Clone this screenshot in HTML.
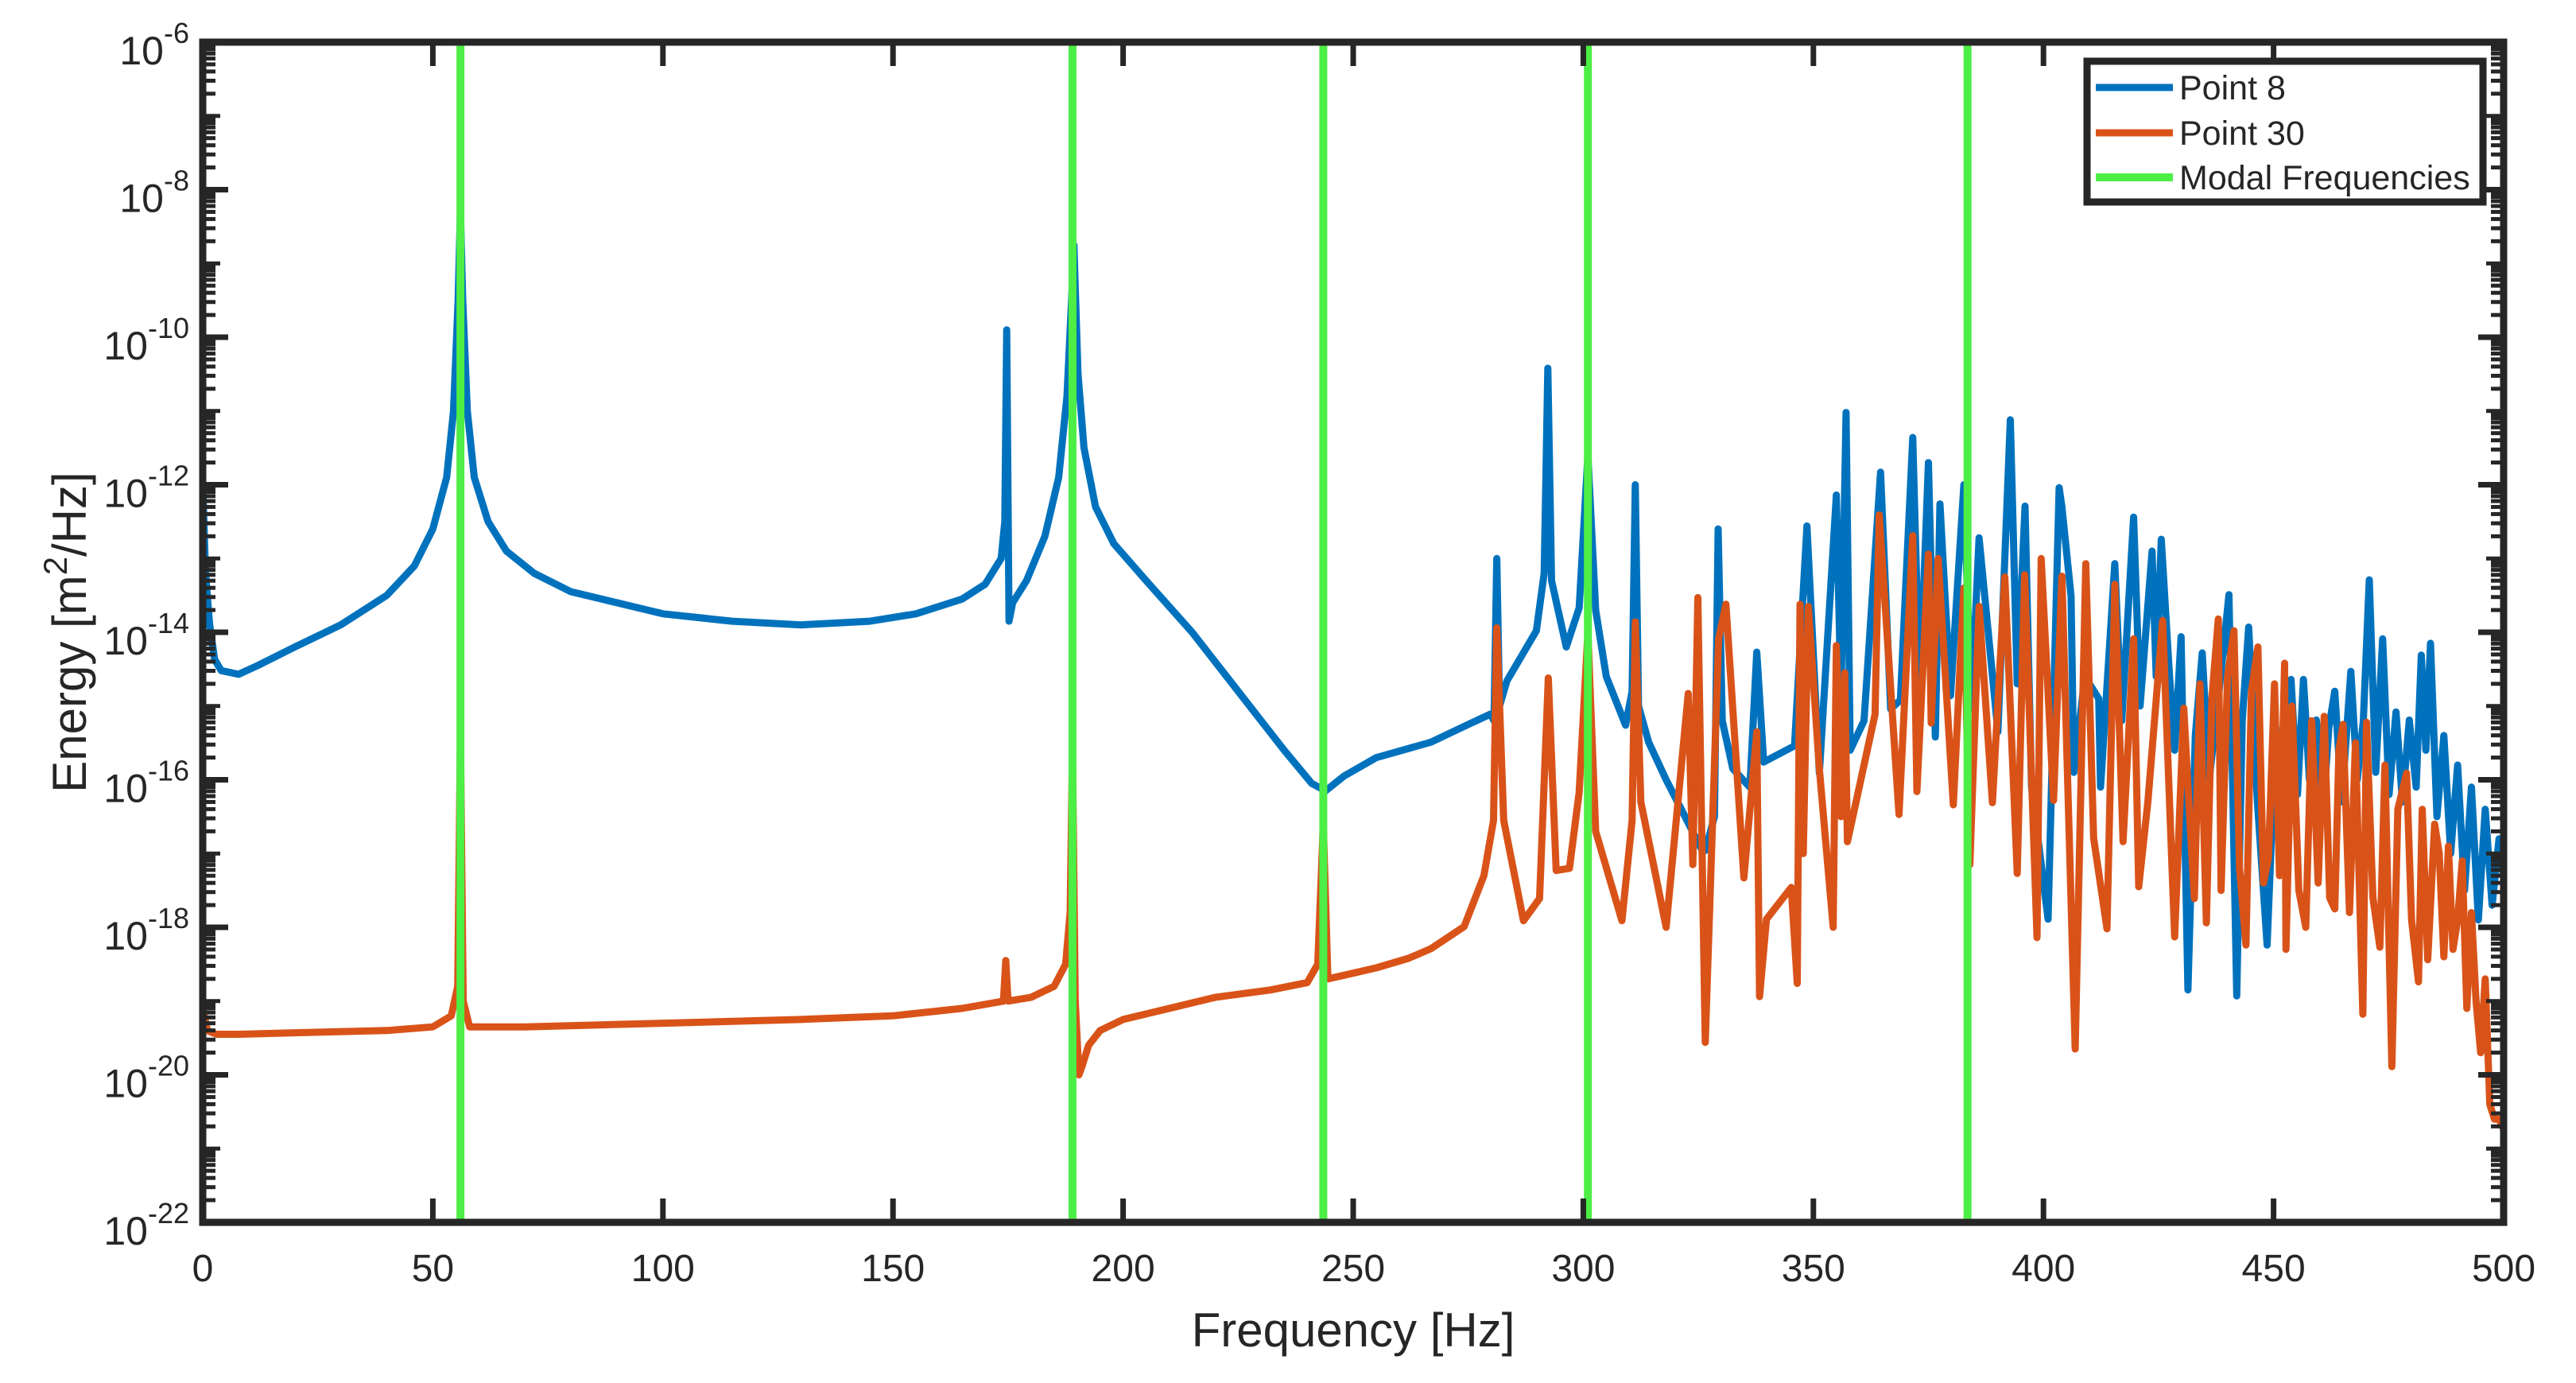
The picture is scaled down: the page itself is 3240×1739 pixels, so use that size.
<!DOCTYPE html>
<html>
<head>
<meta charset="utf-8">
<style>
  html, body { margin: 0; padding: 0; background: #ffffff; }
  svg { display: block; }
  text { font-family: "Liberation Sans", Arial, sans-serif; fill: #262626; }
</style>
</head>
<body>
<svg id="chart" xmlns="http://www.w3.org/2000/svg" width="3240" height="1739" viewBox="0 0 3240 1739">
  <rect x="0" y="0" width="3240" height="1739" fill="#ffffff"/>
  <defs>
    <clipPath id="plotClip"><rect x="255" y="53" width="2894" height="1484"/></clipPath>
  </defs>
  <g id="series" clip-path="url(#plotClip)"></g>
  <g id="axes"></g>
  <text x="1702" y="1693" font-size="60" text-anchor="middle">Frequency [Hz]</text>
  <text transform="translate(108,795) rotate(-90)" font-size="60" text-anchor="middle">Energy [m<tspan font-size="42" dy="-24">2</tspan><tspan dy="24">/Hz]</tspan></text>
  <g>
    <rect x="2625" y="77" width="498" height="177" fill="#ffffff" stroke="#262626" stroke-width="9"/>
    <line x1="2636" y1="110" x2="2733" y2="110" stroke="#0072BD" stroke-width="9"/>
    <text x="2741" y="125" font-size="43" fill="#000">Point 8</text>
    <line x1="2636" y1="167" x2="2733" y2="167" stroke="#D95319" stroke-width="9"/>
    <text x="2741" y="182" font-size="43" fill="#000">Point 30</text>
    <line x1="2636" y1="223" x2="2733" y2="223" stroke="#4DEE45" stroke-width="10"/>
    <text x="2741" y="238" font-size="43" fill="#000">Modal Frequencies</text>
  </g>
</svg>
<script>
// ---- data (frequency in Hz, energy as log10 exponent) ----
const xTicks = [0, 50, 100, 150, 200, 250, 300, 350, 400, 450, 500];
const yTickExps = [-22, -20, -18, -16, -14, -12, -10, -8, -6];
const modalFreqs = [56, 189, 243.5, 301, 383.5];

const p8Freq = [0, 0.6, 1.5, 2.6, 4, 7.8, 12, 20, 30, 40, 46, 50, 53, 54.5, 55.5, 56, 56.5, 57.5, 59, 62, 66, 72, 80, 90, 100, 115, 130, 145, 155, 165, 170, 173.5, 174.3, 174.7, 175.2, 176, 179, 183, 186, 187.8, 188.8, 189.3, 190.2, 191.5, 194, 198, 205, 215, 225, 235, 241, 244, 248, 255, 266.9, 275, 279.8, 280.6, 281.2, 281.8, 283.4, 289.8, 291.5, 292.3, 293.1, 296.3, 299.1, 301, 302.7, 305, 309.2, 310.6, 311.3, 312, 314.2, 318, 321.3, 325.6, 326.5, 328.5, 329.3, 330.2, 332.5, 336.2, 337.7, 339.2, 345.9, 348.6, 351.3, 355, 356, 357.1, 358, 361, 364.6, 366.8, 368.9, 371.6, 373.1, 375, 376.5, 377.5, 379.8, 382.7, 384.3, 386, 390.1, 392.8, 394.3, 396, 397.4, 401, 403.4, 404, 406, 406.6, 409, 412, 412.4, 415.5, 417, 419.6, 421, 423.6, 424.5, 425.6, 427.3, 428.5, 429.9, 431.4, 433, 434.5, 436, 438, 440.3, 442, 443.2, 444.6, 446.5, 448.6, 450.5, 452, 453.8, 455.2, 456.5, 457.8, 459.3, 460.8, 462, 463.3, 464.8, 466.8, 468.2, 469.5, 470.8, 472.2, 473.7, 475.1, 476.6, 478, 479.5, 481, 482.1, 483.1, 484.1, 485.5, 487, 488.5, 490, 491.5, 493, 494.5, 496, 497.5, 499, 500];
const p8Log = [-12.0, -13.2, -13.9, -14.37, -14.52, -14.57, -14.45, -14.2, -13.9, -13.5, -13.1, -12.6, -11.9, -11.0, -9.5, -8.3, -9.5, -11.0, -11.9, -12.5, -12.9, -13.2, -13.45, -13.6, -13.75, -13.85, -13.9, -13.85, -13.75, -13.55, -13.35, -13.0, -12.5, -9.9, -13.85, -13.6, -13.3, -12.7, -11.9, -10.8, -9.5, -8.75, -10.5, -11.5, -12.3, -12.8, -13.3, -14.0, -14.8, -15.6, -16.05, -16.15, -15.95, -15.7, -15.49, -15.25, -15.11, -15.2, -13.0, -15.0, -14.66, -13.98, -13.2, -10.42, -13.3, -14.2, -13.67, -11.6, -13.7, -14.6, -15.26, -14.8, -12.0, -15.0, -15.49, -16.0, -16.4, -16.93, -16.96, -16.5, -12.6, -15.2, -15.85, -16.1, -14.27, -15.76, -15.54, -12.56, -15.91, -12.14, -14.9, -11.02, -15.6, -15.2, -11.83, -15.04, -14.92, -11.36, -14.83, -11.7, -15.42, -12.26, -14.86, -12.0, -15.04, -12.72, -15.35, -11.12, -14.7, -12.29, -16.1, -17.89, -12.04, -12.3, -13.51, -15.9, -14.6, -14.9, -16.1, -13.07, -15.2, -12.44, -15.0, -12.9, -14.6, -12.74, -14.5, -15.6, -14.06, -18.85, -15.4, -14.28, -16.0, -14.9, -13.49, -18.93, -15.2, -13.93, -16.3, -18.24, -15.3, -16.1, -14.64, -16.2, -14.64, -16.0, -15.19, -16.4, -15.3, -14.8, -16.3, -14.53, -16.0, -15.2, -13.29, -15.9, -14.09, -16.2, -15.08, -16.3, -15.19, -16.1, -14.31, -15.6, -14.15, -16.5, -15.4, -17.0, -15.8, -17.5, -16.1, -17.9, -16.4, -17.7, -16.8, -17.3];

const p30Freq = [0, 1, 3, 8, 20, 40, 50, 54, 55.4, 56, 56.6, 58, 70, 100, 130, 150, 165, 174, 174.5, 175, 180, 185, 187.5, 188.5, 189, 189.6, 190.4, 191, 192.5, 195, 200, 210, 220, 232, 240, 242.3, 243.5, 244.5, 248, 255, 262, 266.9, 274.1, 278.4, 280.5, 281.2, 282.7, 287, 290.5, 292.4, 294.1, 297, 299.1, 301, 302.7, 308.4, 310.6, 311.3, 312.5, 318, 322.8, 323.8, 324.9, 326.5, 329.4, 331, 334.9, 337.7, 338.3, 339.8, 345.2, 346.5, 347.1, 347.8, 348.9, 351.3, 354.3, 355, 356, 356.8, 357.4, 363.4, 364.3, 368.6, 371.6, 372.5, 375, 375.6, 377.1, 380.4, 382.7, 384, 386, 388.9, 391.6, 394.3, 395.9, 398.6, 399.5, 402.2, 404, 406.9, 409.2, 410.9, 413.8, 415.5, 417.3, 419.6, 420.7, 422.7, 425.9, 428.5, 430.5, 431.5, 432.8, 434, 435.4, 436.6, 438, 438.6, 440, 441.4, 442.6, 444, 445.2, 446.6, 447.8, 448.9, 450.2, 451.3, 452.4, 452.7, 454, 455.5, 457, 458.3, 459.7, 461, 462.2, 463.3, 464.2, 465.1, 466.5, 467.8, 469.4, 470.2, 471.6, 473.1, 474.2, 475.7, 477, 478.9, 480, 481.5, 482.3, 483.5, 485, 486, 487, 488, 489, 490, 491, 492, 493, 494, 495, 496, 497, 498, 499, 500];
const p30Log = [-19.1, -19.4, -19.45, -19.45, -19.43, -19.4, -19.35, -19.2, -18.8, -15.4, -19.0, -19.35, -19.35, -19.3, -19.25, -19.2, -19.1, -19.0, -18.45, -19.0, -18.95, -18.8, -18.5, -17.8, -15.6, -19.0, -20.0, -19.9, -19.6, -19.4, -19.25, -19.1, -18.95, -18.85, -18.75, -18.5, -16.6, -18.7, -18.65, -18.55, -18.42, -18.29, -17.99, -17.3, -16.55, -13.94, -16.55, -17.91, -17.61, -14.62, -17.23, -17.2, -16.17, -14.0, -16.7, -17.91, -16.55, -13.86, -16.3, -18.0, -14.83, -17.15, -13.53, -19.56, -14.09, -13.62, -17.33, -15.35, -18.94, -17.89, -17.46, -18.76, -13.62, -17.0, -13.65, -15.85, -18.0, -14.18, -16.5, -14.55, -16.84, -15.11, -12.41, -16.47, -12.69, -16.16, -12.94, -15.23, -13.0, -16.34, -13.4, -17.15, -13.65, -16.31, -13.25, -17.27, -13.22, -18.14, -13.0, -16.28, -13.24, -19.65, -13.07, -16.79, -18.02, -13.35, -16.84, -14.09, -17.45, -16.29, -13.84, -18.13, -15.03, -16.2, -17.61, -14.7, -17.94, -14.9, -13.82, -17.5, -14.6, -13.98, -17.2, -18.24, -14.8, -14.2, -17.4, -17.06, -14.7, -17.3, -14.42, -18.3, -15.0, -17.5, -18.0, -15.2, -17.4, -15.14, -17.6, -17.75, -15.6, -15.25, -17.8, -15.5, -19.18, -15.22, -17.6, -18.27, -15.8, -19.89, -16.4, -15.91, -17.9, -18.74, -16.4, -18.44, -16.6, -17.0, -18.4, -16.9, -18.3, -17.9, -17.1, -19.1, -17.8, -19.0, -19.7, -18.7, -20.4, -20.6, -20.6, -20.74];

// ---- axis functions ----
const X0 = 255, X1 = 3149, YB = 1537, YT = 53;
const FMAX = 500, EMIN = -22, EMAX = -6;
function xScale(f) { return X0 + (f / FMAX) * (X1 - X0); }
function yScale(e) { return YB - ((e - EMIN) / (EMAX - EMIN)) * (YB - YT); }

const NS = 'http://www.w3.org/2000/svg';
const series = document.getElementById('series');
const axes = document.getElementById('axes');

function mk(tag, attrs, parent) {
  const el = document.createElementNS(NS, tag);
  for (const k in attrs) el.setAttribute(k, attrs[k]);
  parent.appendChild(el);
  return el;
}

function pts(fr, lg) {
  const out = [];
  for (let i = 0; i < fr.length; i++) out.push(xScale(fr[i]).toFixed(1) + ',' + yScale(lg[i]).toFixed(1));
  return out.join(' ');
}

const line8 = mk('polyline', { points: pts(p8Freq, p8Log), fill: 'none', stroke: '#0072BD', 'stroke-width': 9, 'stroke-linejoin': 'round' }, series);



const line30 = mk('polyline', { points: pts(p30Freq, p30Log), fill: 'none', stroke: '#D95319', 'stroke-width': 9, 'stroke-linejoin': 'round' }, series);



modalFreqs.forEach(function (f) {
  const g = mk('line', { x1: xScale(f), x2: xScale(f), y1: YT, y2: YB, stroke: '#4DEE45', 'stroke-width': 10 }, series);
  
  
});

// ---- ticks ----
const TC = '#262626';
xTicks.forEach(function (t) {
  const x = xScale(t);
  const tb = mk('line', { x1: x, x2: x, y1: YB, y2: YB - 30, stroke: TC, 'stroke-width': 7 }, axes);
  
  
  const tt = mk('line', { x1: x, x2: x, y1: YT, y2: YT + 30, stroke: TC, 'stroke-width': 7 }, axes);
  
  
  const lb = mk('text', { x: x, y: 1611, 'font-size': 48, 'text-anchor': 'middle' }, axes);
  
  
  lb.textContent = String(t);
});

for (let d = EMIN; d < EMAX; d++) {
  for (let m = 2; m <= 10; m++) {
    const e = d + Math.log10(m);
    const y = yScale(e);
    const len = (m === 10) ? 22 : 16;
    const ml = mk('line', { x1: X0, x2: X0 + len, y1: y, y2: y, stroke: TC, 'stroke-width': 5 }, axes);
    
    
    const mr = mk('line', { x1: X1, x2: X1 - len, y1: y, y2: y, stroke: TC, 'stroke-width': 5 }, axes);
    
    
  }
}

yTickExps.forEach(function (e) {
  const y = yScale(e);
  const tl = mk('line', { x1: X0, x2: X0 + 32, y1: y, y2: y, stroke: TC, 'stroke-width': 7 }, axes);
  
  
  const tr = mk('line', { x1: X1, x2: X1 - 32, y1: y, y2: y, stroke: TC, 'stroke-width': 7 }, axes);
  
  
  const lb = mk('text', { x: 238, y: y + 28, 'font-size': 50, 'text-anchor': 'end' }, axes);
  
  
  const base = document.createElementNS(NS, 'tspan');
  base.textContent = '10';
  lb.appendChild(base);
  const sup = document.createElementNS(NS, 'tspan');
  sup.setAttribute('font-size', '36');
  sup.setAttribute('dy', '-27');
  sup.textContent = String(e);
  lb.appendChild(sup);
});

const frame = mk('rect', { x: X0, y: YT, width: X1 - X0, height: YB - YT, fill: 'none', stroke: TC, 'stroke-width': 9 }, axes);


</script>
</body>
</html>
